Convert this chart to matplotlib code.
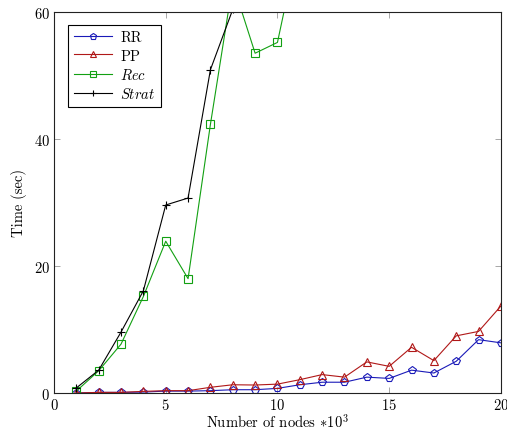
import matplotlib
matplotlib.use("Agg")
import matplotlib.pyplot as plt

plt.rcParams['font.family'] = ['cmr10', 'DejaVu Serif']
plt.rcParams['mathtext.fontset'] = 'cm'
plt.rcParams['axes.formatter.use_mathtext'] = True

# data (x in thousands of nodes, time in sec)
nodes = list(range(1, 21))
rr = [0.0, 0.1, 0.1, 0.15, 0.3, 0.3, 0.37, 0.52, 0.52, 0.73,
      1.3, 1.7, 1.7, 2.5, 2.3, 3.6, 3.15, 5.0, 8.4, 7.9]
pp = [0.0, 0.1, 0.1, 0.26, 0.37, 0.37, 0.9, 1.3, 1.26, 1.4,
      2.1, 2.9, 2.5, 4.9, 4.2, 7.2, 5.1, 9.0, 9.7, 13.7]
rec_nodes = list(range(1, 12))
rec = [0.3, 3.5, 7.7, 15.2, 23.9, 18.0, 42.3, 64.5, 53.5, 55.2, 71.7]
strat_nodes = list(range(1, 9))
strat = [0.8, 3.6, 9.6, 16.1, 29.6, 30.7, 50.9, 60.4]

fig = plt.figure(figsize=(5.07, 4.31), dpi=100)
ax = fig.add_axes([0.1065, 0.0858, 0.8815, 0.8842])

blue = '#1a1ab8'
red = '#b01818'
green = '#12a012'

ax.plot(nodes, rr, color=blue, lw=0.8, marker='p', ms=6, mfc='none', mew=0.8, label='RR')
ax.plot(nodes, pp, color=red, lw=0.8, marker='^', ms=5.5, mfc='none', mew=0.8, label='PP')
ax.plot(rec_nodes, rec, color=green, lw=0.8, marker='s', ms=6, mfc='none', mew=0.8, label='$Rec$')
ax.plot(strat_nodes, strat, color='black', lw=0.8, marker='+', ms=6, mew=0.8, label='$Strat$')

ax.set_xlim(0, 20)
ax.set_ylim(0, 60)
ax.set_xticks([0, 5, 10, 15, 20])
ax.set_yticks([0, 20, 40, 60])
ax.tick_params(direction='in', top=True, right=True, length=4, width=0.6,
               color='#999999', labelsize=10.5, pad=3)
for s in ax.spines.values():
    s.set_linewidth(0.8)
    s.set_color('#222222')

ax.set_xlabel(r'Number of nodes $*10^3$', fontsize=10.5, labelpad=0)
ax.set_ylabel('Time (sec)', fontsize=10.5, labelpad=5)

leg = ax.legend(loc='upper left', bbox_to_anchor=(0.031, 0.966), borderaxespad=0,
                fontsize=10.5, fancybox=False, edgecolor='black', framealpha=1,
                handlelength=2.6, handletextpad=0.6, borderpad=0.4,
                labelspacing=0.3, markerscale=0.8)
leg.get_frame().set_linewidth(0.8)

fig.savefig('out.png', dpi=100)
